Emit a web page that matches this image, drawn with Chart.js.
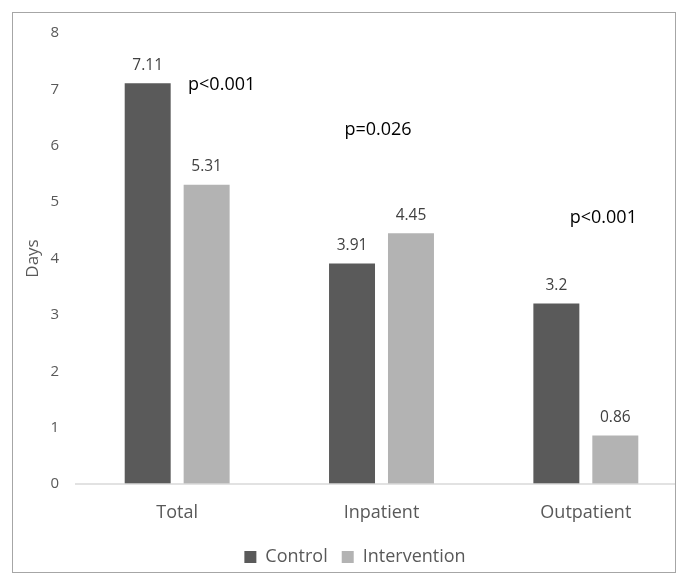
<!DOCTYPE html>
<html lang="en">
<head>
  <meta charset="UTF-8" />
  <title>Days by setting</title>
  <script src="https://cdn.jsdelivr.net/npm/chart.js"></script>
  <style>
    * { margin: 0; padding: 0; box-sizing: border-box; }
    html, body { width: 688px; height: 585px; background: #ffffff; overflow: hidden; }
    #wrap { position: relative; width: 688px; height: 585px; }
  </style>
</head>
<body>
  <div id="wrap"><canvas id="daysChart"></canvas></div>

  <script>
    const categories = ['Total', 'Inpatient', 'Outpatient'];
    const controlDays = [7.11, 3.91, 3.2];
    const interventionDays = [5.31, 4.45, 0.86];
    const pValues = ['p<0.001', 'p=0.026', 'p<0.001'];
    const yTicks = [0, 1, 2, 3, 4, 5, 6, 7, 8];

    const FONT = "'Open Sans', 'Noto Sans', sans-serif";
    const axisGrey = '#595959';

    // frame, baseline, value labels and p-values
    const decor = {
      id: 'decor',
      beforeDraw(chart) {
        const ctx = chart.ctx;
        ctx.save();
        ctx.fillStyle = '#ffffff';
        ctx.fillRect(0, 0, chart.width, chart.height);
        ctx.strokeStyle = '#a6a6a6';
        ctx.lineWidth = 1;
        ctx.strokeRect(12.5, 12.5, 663, 560);
        ctx.restore();
      },
      afterDatasetsDraw(chart, args, opts) {
        const ctx = chart.ctx;
        const x = chart.scales.x, y = chart.scales.y;
        ctx.save();
        // baseline
        ctx.strokeStyle = '#d9d9d9';
        ctx.lineWidth = 1.5;
        ctx.beginPath();
        ctx.moveTo(chart.chartArea.left, y.getPixelForValue(0));
        ctx.lineTo(675, y.getPixelForValue(0));
        ctx.stroke();

        // value labels
        ctx.font = '15.5px ' + FONT;
        ctx.fillStyle = '#404040';
        ctx.textAlign = 'center';
        ctx.textBaseline = 'middle';
        chart.data.datasets.forEach((ds, di) => {
          chart.getDatasetMeta(di).data.forEach((bar, i) => {
            ctx.fillText(String(ds.data[i]), bar.x, bar.y - 18);
          });
        });

        // p-values
        ctx.font = '18px ' + FONT;
        ctx.fillStyle = '#000000';
        pValues.forEach((txt, i) => {
          const p = opts.spots[i];
          ctx.fillText(txt, x.getPixelForValue(i) + p.dx, y.getPixelForValue(p.at));
        });
        ctx.restore();
      }
    };

    new Chart(document.getElementById('daysChart'), {
      type: 'bar',
      data: {
        labels: categories,
        datasets: [
          { label: 'Control', data: controlDays, backgroundColor: '#5a5a5a' },
          { label: 'Intervention', data: interventionDays, backgroundColor: '#b3b3b3' }
        ]
      },
      options: {
        responsive: true,
        maintainAspectRatio: false,
        animation: false,
        layout: { padding: { left: 22, right: 0, top: 33, bottom: 9 } },
        datasets: { bar: { categoryPercentage: 0.577, barPercentage: 0.78 } },
        plugins: {
          legend: {
            position: 'bottom',
            labels: {
              color: axisGrey,
              font: { family: FONT, size: 18 },
              boxWidth: 12,
              boxHeight: 12,
              padding: 14
            }
          },
          tooltip: { enabled: false },
          decor: {
            spots: [
              { dx: 44.5, at: 7.08 },
              { dx: -3.5, at: 6.28 },
              { dx: 17.5, at: 4.72 }
            ]
          }
        },
        scales: {
          x: {
            grid: { display: false, drawTicks: false },
            border: { display: false },
            ticks: { color: axisGrey, font: { family: FONT, size: 18 }, padding: 18 },
            afterFit(scale) { scale.height = 50; }
          },
          y: {
            min: 0,
            max: 8,
            afterBuildTicks(scale) { scale.ticks = yTicks.map(v => ({ value: v })); },
            grid: { display: false, drawTicks: false },
            border: { display: false },
            ticks: { color: axisGrey, font: { family: FONT, size: 15 }, padding: 16 },
            title: {
              display: true,
              text: 'Days',
              color: axisGrey,
              font: { family: FONT, size: 17 },
              padding: { top: 1, bottom: 0 }
            },
            afterFit(scale) { scale.width = 53; }
          }
        }
      },
      plugins: [decor]
    });
  </script>
</body>
</html>
